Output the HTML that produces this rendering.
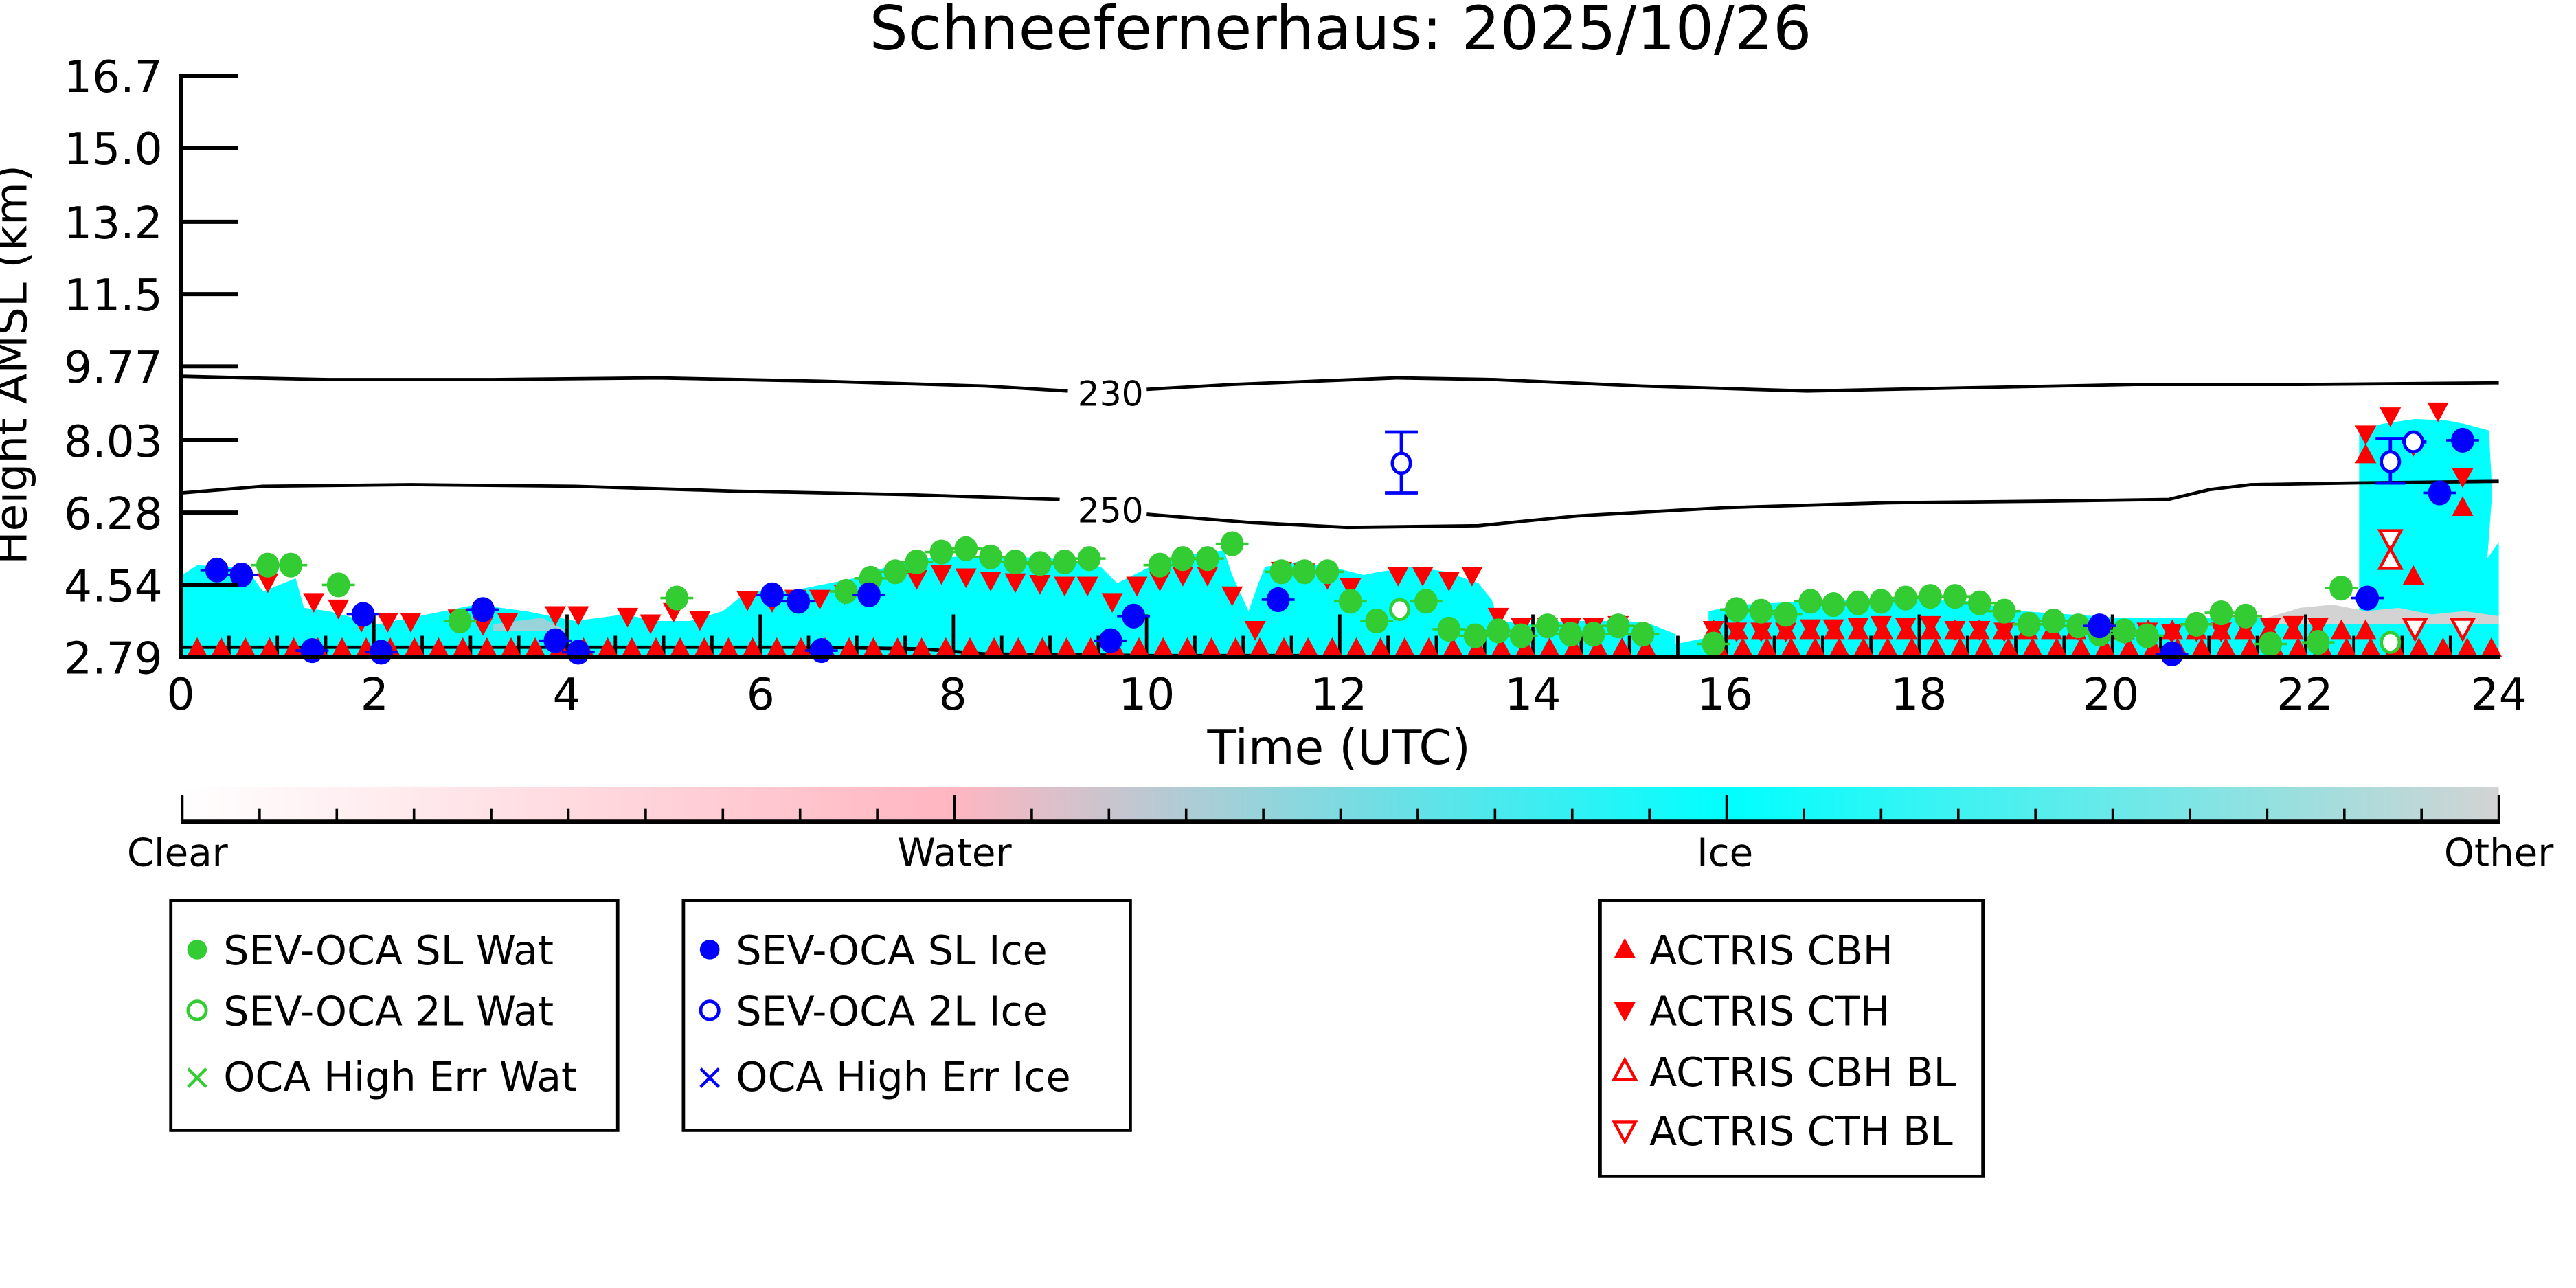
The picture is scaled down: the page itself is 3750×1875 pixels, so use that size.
<!DOCTYPE html>
<html><head><meta charset="utf-8"><style>
html,body{margin:0;padding:0;background:#fff;}
svg{display:block;font-family:"DejaVu Sans","Liberation Sans",sans-serif;}
</style></head><body>
<svg width="3750" height="1875" viewBox="0 0 1568 784" xmlns="http://www.w3.org/2000/svg">
<defs>
<linearGradient id="cb" x1="0" x2="1" y1="0" y2="0">
<stop offset="0" stop-color="#ffffff"/>
<stop offset="0.333" stop-color="#ffb6c1"/>
<stop offset="0.42" stop-color="#b9c9d2"/>
<stop offset="0.667" stop-color="#00ffff"/>
<stop offset="1" stop-color="#d3d3d3"/>
</linearGradient>
<path id="tu" d="M0,-7 L6.5,5 L-6.5,5Z"/>
<path id="td" d="M0,7 L6.5,-5 L-6.5,-5Z"/>
</defs>
<text x="816" y="30" font-size="37" text-anchor="middle">Schneefernerhaus: 2025/10/26</text>

<path fill="#00ffff" d="M111,400 L111,350 L120,344 L150,346 L160,360 L180,352 L185,370 L200,372 L230,380 L260,374 L290,368 L320,372 L350,378 L380,374 L400,378 L420,378 L440,372 L455,360 L480,360 L500,356 L520,352 L540,345 L560,340 L600,338 L640,340 L670,345 L680,355 L700,345 L720,338 L745,335 L750,350 L760,372 L766,355 L770,345 L790,342 L810,345 L830,350 L840,348 L860,345 L880,348 L900,355 L908,365 L912,378 L930,380 L960,378 L990,378 L1005,380 L1020,386 L1020,392 L1040,388 L1040,372 L1060,368 L1100,366 L1150,364 L1200,366 L1230,372 L1260,374 L1290,376 L1330,376 L1380,376 L1420,376 L1436,372 L1436,262 L1450,258 L1470,255 L1490,256 L1500,258 L1515,262 L1517,300 L1514,340 L1521,330 L1521,400Z"/>
<path fill="#d3d3d3" d="M1380,376 L1400,370 L1420,368 L1440,372 L1460,370 L1480,374 L1500,372 L1521,375 L1521,380 L1380,380Z"/>
<path fill="#ffb6c1" opacity="0.6" d="M300,380 L330,376 L345,384 L300,384Z"/>

<g fill="none" stroke="#000" stroke-width="2">
<path d="M111,229 L150,230 L200,231 L300,231 L400,230 L500,232 L600,235 L650,238"/>
<path d="M698,237 L750,234 L850,230 L910,231 L1000,235 L1100,238 L1200,236 L1300,234 L1400,234 L1521,233"/>
<path d="M111,300 L160,296 L250,295 L350,296 L450,299 L550,301 L645,304"/>
<path d="M698,313 L760,318 L820,321 L900,320 L960,314 L1050,309 L1150,306 L1250,305 L1320,304 L1345,298 L1370,295 L1430,294 L1521,293"/>
<path d="M111,394 L200,394 L300,394 L400,394 L500,394 L560,395 L600,398 L700,399 L800,399"/>
</g>
<text x="676" y="247" font-size="21" text-anchor="middle">230</text>
<text x="676" y="318" font-size="21" text-anchor="middle">250</text>

<g stroke="#000" stroke-width="2" id="vt"></g>
<g fill="#ff0000" id="ups"></g>
<g fill="#ff0000" id="downs"></g>
<g id="greens" fill="#33cc33" stroke="#33cc33" stroke-width="1.5"></g>
<g id="blues" fill="#0000ff" stroke="#0000ff" stroke-width="1.5"></g>

<g fill="none" stroke="#0000ff" stroke-width="2">
<line x1="853" y1="263" x2="853" y2="300"/><line x1="843" y1="263" x2="863" y2="263"/><line x1="843" y1="300" x2="863" y2="300"/>
<ellipse cx="853" cy="282" rx="5.5" ry="6" fill="#fff"/>
<line x1="1455" y1="267" x2="1455" y2="294"/><line x1="1446" y1="267" x2="1464" y2="267"/><line x1="1446" y1="294" x2="1464" y2="294"/>
<ellipse cx="1455" cy="281" rx="5.5" ry="6" fill="#fff"/>
<line x1="1462" y1="269" x2="1477" y2="269"/>
<ellipse cx="1469" cy="269" rx="5.5" ry="6" fill="#fff"/>
</g>
<g fill="#fff" stroke="#33cc33" stroke-width="2">
<ellipse cx="852" cy="371" rx="5.5" ry="6"/>
<ellipse cx="1455" cy="391" rx="5.5" ry="6"/>
</g>
<g fill="#fff" stroke="#ff0000" stroke-width="1.8">
<use href="#td" x="1455" y="328"/><use href="#tu" x="1455" y="341"/>
<use href="#td" x="1470" y="382"/><use href="#td" x="1499" y="382"/>
</g>

<g stroke="#000" stroke-width="2.5" fill="none">
<line x1="110" y1="45" x2="110" y2="401"/>
<line x1="109" y1="400" x2="1522" y2="400"/>
<line x1="110" y1="46" x2="145" y2="46"/>
<line x1="110" y1="90" x2="145" y2="90"/>
<line x1="110" y1="135" x2="145" y2="135"/>
<line x1="110" y1="179" x2="145" y2="179"/>
<line x1="110" y1="223" x2="145" y2="223"/>
<line x1="110" y1="268" x2="145" y2="268"/>
<line x1="110" y1="312" x2="145" y2="312"/>
<line x1="110" y1="356" x2="145" y2="356"/>
</g>
<g font-size="27" text-anchor="end">
<text x="99" y="56">16.7</text><text x="99" y="100">15.0</text><text x="99" y="145">13.2</text>
<text x="99" y="189">11.5</text><text x="99" y="233">9.77</text><text x="99" y="278">8.03</text>
<text x="99" y="322">6.28</text><text x="99" y="366">4.54</text><text x="99" y="410">2.79</text>
</g>
<text transform="translate(16,222) rotate(-90)" font-size="27" text-anchor="middle">Height AMSL (km)</text>
<g font-size="27" text-anchor="middle">
<text x="110" y="432">0</text><text x="228" y="432">2</text><text x="345" y="432">4</text>
<text x="463" y="432">6</text><text x="580" y="432">8</text><text x="698" y="432">10</text>
<text x="815" y="432">12</text><text x="933" y="432">14</text><text x="1050" y="432">16</text>
<text x="1168" y="432">18</text><text x="1285" y="432">20</text><text x="1403" y="432">22</text>
<text x="1521" y="432">24</text>
</g>
<text x="815" y="465" font-size="29" text-anchor="middle">Time (UTC)</text>

<rect x="111" y="479" width="1410" height="21" fill="url(#cb)"/>
<line x1="110" y1="500" x2="1522" y2="500" stroke="#000" stroke-width="3"/>
<g stroke="#000" stroke-width="1.5" id="cbt"></g>
<g font-size="23.5" text-anchor="middle">
<text x="108" y="527">Clear</text><text x="581" y="527">Water</text>
<text x="1050" y="527">Ice</text><text x="1521" y="527">Other</text>
</g>

<g fill="none" stroke="#000" stroke-width="2">
<rect x="104" y="548" width="272" height="140"/>
<rect x="416" y="548" width="272" height="140"/>
<rect x="974" y="548" width="233" height="168"/>
</g>
<g font-size="24.5">
<circle cx="120" cy="578" r="6" fill="#33cc33"/>
<text x="136" y="587">SEV-OCA SL Wat</text>
<circle cx="120" cy="615" r="5.5" fill="none" stroke="#33cc33" stroke-width="2"/>
<text x="136" y="624">SEV-OCA 2L Wat</text>
<text x="120" y="663" fill="#33cc33" text-anchor="middle" font-size="22">×</text>
<text x="136" y="664">OCA High Err Wat</text>
<circle cx="432" cy="578" r="6" fill="#0000ff"/>
<text x="448" y="587">SEV-OCA SL Ice</text>
<circle cx="432" cy="615" r="5.5" fill="none" stroke="#0000ff" stroke-width="2"/>
<text x="448" y="624">SEV-OCA 2L Ice</text>
<text x="432" y="663" fill="#0000ff" text-anchor="middle" font-size="22">×</text>
<text x="448" y="664">OCA High Err Ice</text>
<use href="#tu" x="989" y="578" fill="#ff0000"/>
<text x="1004" y="587">ACTRIS CBH</text>
<use href="#td" x="989" y="615" fill="#ff0000"/>
<text x="1004" y="624">ACTRIS CTH</text>
<use href="#tu" x="989" y="652" fill="#fff" stroke="#ff0000" stroke-width="1.8"/>
<text x="1004" y="661">ACTRIS CBH BL</text>
<use href="#td" x="989" y="688" fill="#fff" stroke="#ff0000" stroke-width="1.8"/>
<text x="1004" y="697">ACTRIS CTH BL</text>
</g>

<script>
(function(){
var NS="http://www.w3.org/2000/svg";
function el(p,t,a){var e=document.createElementNS(NS,t);for(var k in a)e.setAttribute(k,a[k]);document.getElementById(p).appendChild(e);return e;}
for(var i=1;i<96;i++){var x=110+i*1411/96;var h=(i%8==0)?26:13;
 if(i%2==1 && i%8!=0) continue;
 el("vt","line",{x1:x,y1:400,x2:x,y2:400-h});}
for(var i=0;i<=30;i++){var x=111+i*1410/30;var h=(i%10==0)?16:8;el("cbt","line",{x1:x,y1:500,x2:x,y2:500-h});}
for(var x=120;x<1520;x+=14.7){if(x>1008&&x<1035)continue;el("ups","use",{href:"#tu",x:x,y:395});}
var upx=[[1440,277],[1469,351],[1499,309]];
for(var x=1043;x<1440;x+=14.7)upx.push([x,384]);
upx.forEach(function(p){el("ups","use",{href:"#tu",x:p[0],y:p[1]});});
var dn=[[163,354],[191,366],[206,370],[220,378],[236,378],[250,378],[279,376],[294,380],[309,378],[338,374],[352,374],[382,375],[396,379],[410,372],[426,377],[455,365],[470,366],[484,364],[499,364],[514,361],[529,358],[558,352],[573,349],[588,351],[603,353],[618,354],[633,355],[648,356],[662,356],[677,366],[692,356],[706,353],[720,350],[735,350],[750,362],[764,383],[780,347],[794,348],[808,352],[822,357],[851,350],[866,350],[882,353],[896,350],[912,375],[926,381],[942,381],[956,381],[970,381],[985,380],[1043,383],[1057,384],[1072,384],[1087,384],[1102,382],[1116,382],[1131,381],[1145,380],[1160,381],[1175,380],[1190,383],[1205,383],[1220,384],[1235,382],[1250,382],[1265,383],[1280,385],[1293,385],[1307,384],[1322,385],[1337,384],[1352,384],[1367,382],[1382,381],[1396,380],[1411,381],[1440,264],[1455,253],[1469,271],[1484,250],[1499,290]];
dn.forEach(function(p){el("downs","use",{href:"#td",x:p[0],y:p[1]});});
var gr=[[163,344],[177,344],[206,356],[280,378],[412,364],[515,360],[530,352],[545,348],[558,342],[573,336],[588,334],[603,339],[618,342],[633,343],[648,342],[663,340],[706,344],[720,340],[735,340],[750,331],[780,348],[794,348],[808,348],[822,366],[838,378],[868,366],[882,383],[898,387],[912,384],[926,387],[942,381],[956,386],[970,386],[985,381],[1000,386],[1043,392],[1057,371],[1072,372],[1087,374],[1102,366],[1116,368],[1131,367],[1145,366],[1160,364],[1175,363],[1190,363],[1205,367],[1220,372],[1235,380],[1250,378],[1265,381],[1278,386],[1293,384],[1307,387],[1337,380],[1352,373],[1367,375],[1425,358],[1382,392],[1411,391]];
gr.forEach(function(p){el("greens","line",{x1:p[0]-10,y1:p[1],x2:p[0]+10,y2:p[1]});el("greens","ellipse",{cx:p[0],cy:p[1],rx:6.3,ry:6.8});});
var bl=[[132,347],[147,350],[221,374],[294,371],[338,390],[470,362],[486,366],[529,362],[676,390],[690,375],[778,365],[1278,381],[1441,364],[1485,300],[1499,268],[190,396],[232,397],[352,397],[500,396],[1322,398]];
bl.forEach(function(p){el("blues","line",{x1:p[0]-10,y1:p[1],x2:p[0]+10,y2:p[1]});el("blues","ellipse",{cx:p[0],cy:p[1],rx:6.3,ry:6.8});});
})();
</script>
</svg>
</body></html>
